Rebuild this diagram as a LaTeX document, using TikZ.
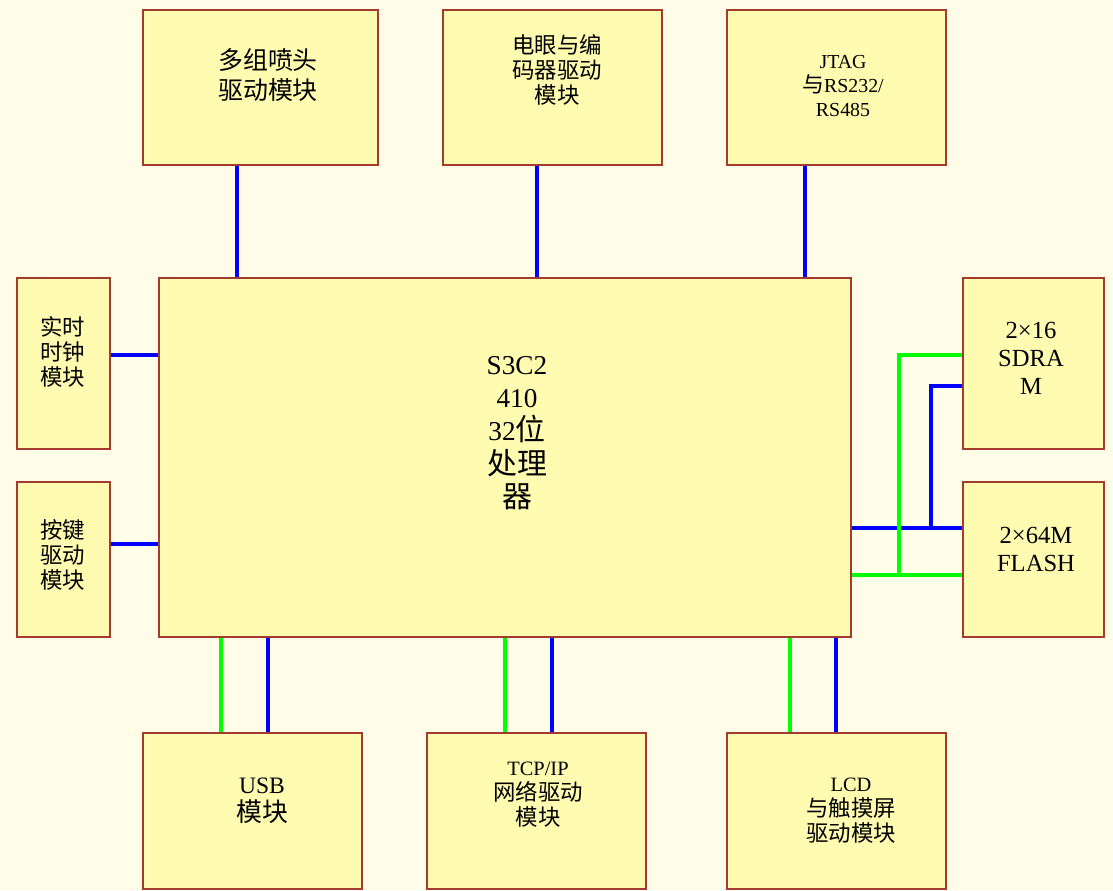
\documentclass[tikz,border=0pt]{standalone}
\usepackage{fontspec}
\setmainfont{Liberation Serif}
\newfontfamily\cjk[Scale=1.1]{Noto Sans CJK SC}
\usepackage{xcolor}
\usepackage{tikz}
\usetikzlibrary{positioning}
\definecolor{bgcream}{HTML}{FFFDE8}
\definecolor{boxfill}{HTML}{FFFBB0}
\definecolor{boxline}{HTML}{A33B2F}
\definecolor{busblue}{HTML}{0000FF}
\definecolor{busgreen}{HTML}{00FF00}
\newcommand{\zh}[1]{{\cjk #1}}

\begin{document}
\begin{tikzpicture}[%
      module/.style={draw=boxline, line width=0.03cm, fill=boxfill, inner sep=0pt},
      modtext/.style={align=center, inner sep=0pt, font=\fontsize{11.6}{14.2}\selectfont},
      bigtext/.style={modtext, font=\fontsize{12.9}{17}\selectfont},
      usbtext/.style={modtext, font=\fontsize{13.4}{15.9}\selectfont},
      memtext/.style={modtext, font=\fontsize{14}{15.9}\selectfont},
      cputext/.style={modtext, font=\fontsize{15.5}{19}\selectfont},
      bblue/.style={draw=busblue, line width=0.08cm},
      bgreen/.style={draw=busgreen, line width=0.08cm}]
      \fill[bgcream] (0,0) rectangle (22.26,-17.8);
      \useasboundingbox (0,0) rectangle (22.26,-17.8);

      \node[module, minimum width=4.7cm, minimum height=3.1cm] (spray) at (5.21,-1.75) {};
      \node[module, minimum width=4.38cm, minimum height=3.1cm] (eye) at (11.05,-1.75) {};
      \node[module, minimum width=4.38cm, minimum height=3.1cm] (jtag) at (16.73,-1.75) {};
      \node[module, minimum width=13.84cm, minimum height=7.18cm] (cpu) at (10.1,-9.15) {};
      \node[module, minimum width=1.86cm, minimum height=3.42cm] (rtc) at (1.27,-7.27) {};
      \node[module, minimum width=1.86cm, minimum height=3.1cm] (keys) at (1.27,-11.19) {};
      \node[module, minimum width=2.82cm, minimum height=3.42cm] (sdram) at (20.67,-7.27) {};
      \node[module, minimum width=2.82cm, minimum height=3.1cm] (flash) at (20.67,-11.19) {};
      \node[module, minimum width=4.38cm, minimum height=3.12cm] (usb) at (5.05,-16.22) {};
      \node[module, minimum width=4.38cm, minimum height=3.12cm] (tcp) at (10.73,-16.22) {};
      \node[module, minimum width=4.38cm, minimum height=3.12cm] (lcd) at (16.73,-16.22) {};

      \node[bigtext] (spray-t) at (5.36,-1.50) {\zh{多组喷头}\\\zh{驱动模块}};
      \node[modtext] (eye-t) at (11.14,-1.40) {\zh{电眼与编}\\\zh{码器驱动}\\\zh{模块}};
      \node[modtext, font=\fontsize{11.3}{13.6}\selectfont] (jtag-t) at (16.86,-1.72) {JTAG\\\zh{与}RS232/\\RS485};
      \node[cputext] (cpu-t) at (10.34,-8.66) {S3C2\\410\\32\zh{位}\\\zh{处理}\\\zh{器}};
      \node[modtext] (rtc-t) at (1.26,-7.04) {\zh{实时}\\\zh{时钟}\\\zh{模块}};
      \node[modtext] (keys-t) at (1.26,-11.10) {\zh{按键}\\\zh{驱动}\\\zh{模块}};
      \node[memtext] (sdram-t) at (20.62,-7.16) {2\texttimes16\\SDRA\\M};
      \node[memtext] (flash-t) at (20.72,-10.98) {2\texttimes64M\\FLASH};
      \node[usbtext] (usb-t) at (5.24,-16.02) {USB\\\zh{模块}};
      \node[modtext] (tcp-t) at (10.76,-15.90) {TCP/IP\\\zh{网络驱动}\\\zh{模块}};
      \node[modtext] (lcd-t) at (17.02,-16.22) {LCD\\\zh{与触摸屏}\\\zh{驱动模块}};

      \draw[bblue] (4.74,0 |- spray.south) -- (4.74,0 |- cpu.north);
      \draw[bblue] (10.74,0 |- eye.south) -- (10.74,0 |- cpu.north);
      \draw[bblue] (16.10,0 |- jtag.south) -- (16.10,0 |- cpu.north);

      \draw[bblue] (rtc.east |- 0,-7.10) -- (cpu.west |- 0,-7.10);
      \draw[bblue] (keys.east |- 0,-10.88) -- (cpu.west |- 0,-10.88);

      \draw[bgreen] (4.42,0 |- cpu.south) -- (4.42,0 |- usb.north);
      \draw[bblue] (5.36,0 |- cpu.south) -- (5.36,0 |- usb.north);
      \draw[bgreen] (10.10,0 |- cpu.south) -- (10.10,0 |- tcp.north);
      \draw[bblue] (11.04,0 |- cpu.south) -- (11.04,0 |- tcp.north);
      \draw[bgreen] (15.80,0 |- cpu.south) -- (15.80,0 |- lcd.north);
      \draw[bblue] (16.72,0 |- cpu.south) -- (16.72,0 |- lcd.north);

      \coordinate (bjoin) at (18.62,-10.56);
      \coordinate (gjoin) at (17.98,-11.50);
      \draw[bblue] (cpu.east |- bjoin) -- (flash.west |- bjoin);
      \draw[bblue] (bjoin) |- (sdram.west |- 0,-7.72);
      \draw[bgreen] (cpu.east |- gjoin) -- (flash.west |- gjoin);
      \draw[bgreen] (gjoin) |- (sdram.west |- 0,-7.10);
\end{tikzpicture}
\end{document}
